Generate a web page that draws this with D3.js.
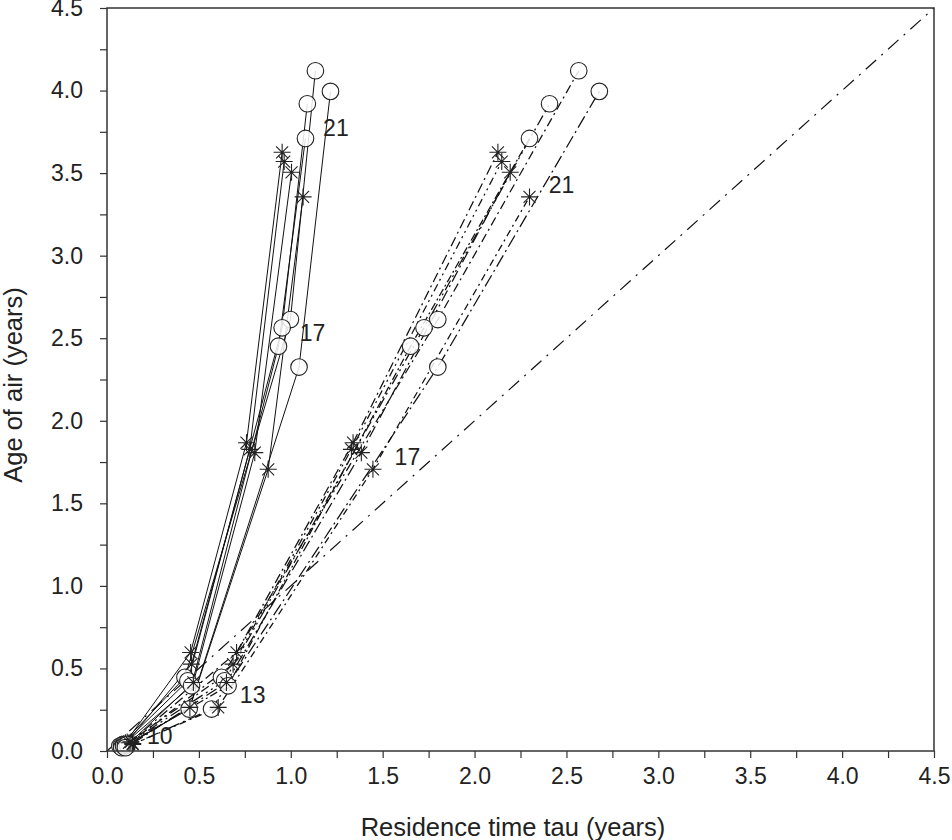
<!DOCTYPE html>
<html>
<head>
<meta charset="utf-8">
<script src="https://cdn.jsdelivr.net/npm/d3@7"></script>
<style>
  body { margin: 0; background: #fff; }
  text { font-family: "Liberation Sans", Arial, Helvetica, sans-serif; fill: #222; }
</style>
</head>
<body>
<div id="vis"></div>
<script>
const ctx = {
    w: 952,
    h: 840,
    left: 107,
    right: 934,
    top: 8,
    bottom: 751,
    starR: 8.5,
    circleR: 8.3
};

// levels of each point along a curve
const levels = [10, 13, 17, 21];

// age of air (years) for the star curves and the circle curves, one row per curve
const starAge = [
    [0.050, 0.597, 1.867, 3.626],
    [0.055, 0.526, 1.827, 3.570],
    [0.045, 0.415, 1.807, 3.505],
    [0.040, 0.264, 1.706, 3.356]
];
const circleAge = [
    [0.030, 0.446, 2.613, 4.120],
    [0.035, 0.425, 2.563, 3.920],
    [0.040, 0.395, 2.452, 3.710],
    [0.020, 0.254, 2.325, 3.995]
];

// residence time tau (years), solid-line set
const starTauSolid = [
    [0.100, 0.455, 0.759, 0.953],
    [0.110, 0.460, 0.777, 0.964],
    [0.120, 0.470, 0.804, 1.004],
    [0.120, 0.451, 0.877, 1.067]
];
const circleTauSolid = [
    [0.070, 0.424, 0.998, 1.134],
    [0.080, 0.440, 0.953, 1.090],
    [0.090, 0.460, 0.933, 1.080],
    [0.080, 0.447, 1.045, 1.216]
];

// residence time tau (years), dash-dot set
const starTauDash = [
    [0.120, 0.705, 1.339, 2.127],
    [0.130, 0.686, 1.330, 2.148],
    [0.140, 0.650, 1.384, 2.194],
    [0.140, 0.605, 1.447, 2.299]
];
const circleTauDash = [
    [0.090, 0.623, 1.800, 2.567],
    [0.100, 0.640, 1.725, 2.408],
    [0.110, 0.659, 1.652, 2.299],
    [0.100, 0.569, 1.800, 2.679]
];

// level annotations: [text, tau, age]
const annotations = [
    ["10", 0.217, 0.093],
    ["13", 0.723, 0.339],
    ["17", 1.049, 2.529],
    ["21", 1.176, 3.776],
    ["17", 1.565, 1.782],
    ["21", 2.404, 3.427]
];

const axisMax = 4.5;
const allTicks = d3.range(0, 4.51, 0.25);

const dashPatterns = ["10,4,2,4", "8,4,2,4,2,4", "12,4,2,4", "7,4,2,4",
                      "9,4,2,4", "11,4,2,4,2,4", "8,3,2,3", "13,4,2,4"];

const xScale = d3.scaleLinear().domain([0, axisMax]).range([ctx.left, ctx.right]);
const yScale = d3.scaleLinear().domain([0, axisMax]).range([ctx.bottom, ctx.top]);

function asterisk(r) {
    let p = d3.path();
    for (let k = 0; k < 4; k++) {
        let a = k * Math.PI / 4;
        p.moveTo(-r * Math.cos(a), -r * Math.sin(a));
        p.lineTo(r * Math.cos(a), r * Math.sin(a));
    }
    return p.toString();
}

function buildCurves(ages, taus, marker) {
    return ages.map((row, i) => row.map((a, j) => ({
        level: levels[j], age: a, tau: taus[i][j], marker: marker
    })));
}

function drawSet(g, curves, dashed) {
    let line = d3.line().x(d => xScale(d.tau)).y(d => yScale(d.age));
    curves.forEach((c, i) => {
        g.append("path")
          .datum(c)
          .attr("d", line)
          .attr("fill", "none")
          .attr("stroke", "#111")
          .attr("stroke-width", dashed ? 1.25 : 1)
          .attr("stroke-dasharray", dashed ? dashPatterns[i % dashPatterns.length] : null);
    });
}

function drawMarkers(g, curves) {
    let pts = curves.flat();
    g.selectAll("circle.pt")
      .data(pts.filter(d => d.marker === "circle"))
      .enter().append("circle")
      .classed("pt", true)
      .attr("cx", d => xScale(d.tau))
      .attr("cy", d => yScale(d.age))
      .attr("r", ctx.circleR)
      .attr("fill", "#fff")
      .attr("fill-opacity", 0.85)
      .attr("stroke", "#222")
      .attr("stroke-width", 1.1);
    g.selectAll("path.star")
      .data(pts.filter(d => d.marker === "star"))
      .enter().append("path")
      .classed("star", true)
      .attr("d", asterisk(ctx.starR))
      .attr("transform", d => `translate(${xScale(d.tau)},${yScale(d.age)})`)
      .attr("stroke", "#222")
      .attr("stroke-width", 1.1)
      .attr("fill", "none");
}

function createViz() {
    let svg = d3.select("#vis").append("svg")
        .attr("width", ctx.w)
        .attr("height", ctx.h);

    // 1:1 diagonal
    svg.append("line")
      .attr("x1", xScale(0)).attr("y1", yScale(0))
      .attr("x2", xScale(axisMax)).attr("y2", yScale(axisMax))
      .attr("stroke", "#111")
      .attr("stroke-width", 1.2)
      .attr("stroke-dasharray", "14,7,2,7");

    let solid = buildCurves(starAge, starTauSolid, "star")
        .concat(buildCurves(circleAge, circleTauSolid, "circle"));
    let dashed = buildCurves(starAge, starTauDash, "star")
        .concat(buildCurves(circleAge, circleTauDash, "circle"));

    let linesG = svg.append("g");
    drawSet(linesG, solid, false);
    drawSet(linesG, dashed, true);

    drawMarkers(svg.append("g").attr("id", "solidMarks"), solid);
    drawMarkers(svg.append("g").attr("id", "dashMarks"), dashed);

    // level labels
    svg.append("g").selectAll("text")
      .data(annotations)
      .enter().append("text")
      .attr("x", d => xScale(d[1]))
      .attr("y", d => yScale(d[2]))
      .attr("dominant-baseline", "central")
      .style("font-size", "23px")
      .text(d => d[0]);

    // axes
    let fmt = d => (Math.round(d * 100) % 50 === 0) ? d3.format(".1f")(d) : "";
    let xAxis = svg.append("g")
      .attr("transform", `translate(0,${ctx.bottom})`)
      .call(d3.axisBottom(xScale).tickValues(allTicks).tickSize(7).tickPadding(10).tickFormat(fmt));
    let yAxis = svg.append("g")
      .attr("transform", `translate(${ctx.left},0)`)
      .call(d3.axisLeft(yScale).tickValues(allTicks).tickSize(7).tickPadding(17).tickFormat(fmt));
    [xAxis, yAxis].forEach(a => {
        a.select(".domain").remove();
        a.selectAll("line").attr("stroke", "#333").attr("stroke-width", 1.2);
        a.selectAll("text")
         .style("font-size", "23px")
         .style("font-family", "'Liberation Sans', Arial, sans-serif")
         .attr("fill", "#222");
    });

    // frame
    svg.append("rect")
      .attr("x", ctx.left).attr("y", ctx.top)
      .attr("width", ctx.right - ctx.left)
      .attr("height", ctx.bottom - ctx.top)
      .attr("fill", "none")
      .attr("stroke", "#333")
      .attr("stroke-width", 1.5);

    // axis titles
    svg.append("text")
      .attr("x", 513)
      .attr("y", 827)
      .attr("text-anchor", "middle")
      .attr("dominant-baseline", "central")
      .style("font-size", "25.5px")
      .text("Residence time tau (years)");
    svg.append("text")
      .attr("transform", `translate(13,385) rotate(-90)`)
      .attr("text-anchor", "middle")
      .attr("dominant-baseline", "central")
      .style("font-size", "25.5px")
      .text("Age of air (years)");
}

createViz();
</script>
</body>
</html>
